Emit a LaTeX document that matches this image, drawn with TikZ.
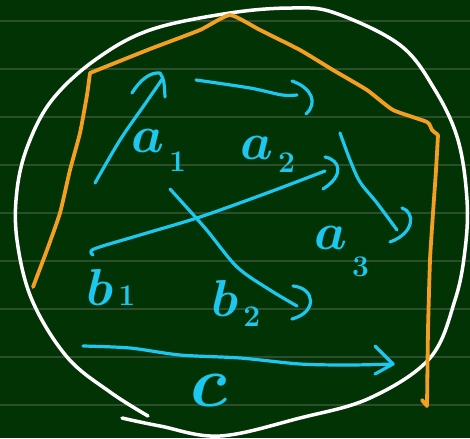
\documentclass[tikz,border=0pt]{standalone}
\usepackage{fix-cm}
\usepackage{tikz}

\definecolor{board}{RGB}{1,51,4}
\definecolor{rulegreen}{RGB}{44,78,44}
\definecolor{chalkcyan}{RGB}{28,200,240}
\definecolor{chalkorange}{RGB}{244,158,34}

% letter with a hand-written index below right
\newcommand{\idx}[3]{$#1$\kern5pt\raisebox{#3}{\fontsize{30}{30}\selectfont\bfseries #2}}

\begin{document}
\begin{tikzpicture}[x=1pt, y=-1pt, line cap=round, line join=round,
    rim/.style={white, line width=3.5pt},
    hull/.style={chalkorange, line width=3.8pt},
    vec/.style={chalkcyan, line width=3.2pt},
    lbl/.style={text=chalkcyan, anchor=base west, inner sep=0pt, font=\fontsize{52}{52}\selectfont\boldmath}]
    
    % board
    \fill[board] (0,0) rectangle (470,438);
    \useasboundingbox (0,0) rectangle (470,438);
    \foreach \y in {21,69,...,405}
        \draw[rulegreen, line width=1.6pt] (0,\y) -- (470,\y);
    
    % white loop
    \draw[rim] plot[smooth, tension=0.6] coordinates {(148,416) (110,392) (67,357) (32,300) (17,240) (17,190) (28,145) (52,100) (95,60) (150,30) (230,13) (293,8) (335,13) (400,45) (435,90) (458,140) (467,200) (465,250) (455,300) (430,358) (370,398) (300,418) (220,436) (160,426) (122,418)};
    
    % orange hull
    \draw[hull] plot[smooth, tension=0.3] coordinates {(33,287) (47,250) (60,213) (70,170) (80,133) (87,95) (90,73)};
    \draw[hull] plot[smooth, tension=0.3] coordinates {(90,73) (150,49) (200,30) (230,15) (260,30) (300,50) (333,70) (367,90) (393,110) (427,122) (432,130) (438,135)};
    \draw[hull] plot[smooth, tension=0.3] coordinates {(438,135) (436,170) (433,213) (430,260) (428,330) (427,406)};
    \draw[hull] (427,406) -- (422,400);
    
    % a_1
    \draw[vec] plot[smooth] coordinates {(95,183) (120,140) (145,104) (163,78)};
    \draw[vec] (132,93) .. controls (140,80) and (150,72) .. (160,73) .. controls (164,80) .. (165,97);
    % a_2
    \draw[vec] plot[smooth] coordinates {(196,80) (250,88) (282,95) (297,95)};
    \draw[vec] (292,81) .. controls (312,88) and (318,103) .. (306,114);
    % b_1
    \draw[vec] plot[smooth] coordinates {(93,255) (94,249) (140,235) (200,217) (267,193) (325,171)};
    \draw[vec] (325,157) .. controls (340,160) and (345,175) .. (323,189);
    % b_2
    \draw[vec] plot[smooth] coordinates {(170,189) (205,228) (237,267) (270,290) (297,306)};
    \draw[vec] (293,286) .. controls (315,288) and (318,312) .. (292,319);
    % a_3
    \draw[vec] plot[smooth] coordinates {(340,133) (350,160) (360,182) (377,203) (397,230)};
    \draw[vec] (402,208) .. controls (415,212) and (415,233) .. (390,242);
    % c
    \draw[vec] plot[smooth] coordinates {(83,346) (130,348) (180,355) (240,358) (300,364) (350,365) (393,364)};
    \draw[vec] (375,346) -- (393,364) -- (375,374);
    
    % labels
    \node[lbl] (la1) at (131,153) {\idx{a}{1}{-19pt}};
    \node[lbl] (la2) at (240,160) {\idx{a}{2}{-13pt}};
    \node[lbl] (la3) at (314,249) {\idx{a}{3}{-27pt}};
    \node[lbl] (lb1) at (86,305) {\idx{b}{1}{0pt}};
    \node[lbl] (lb2) at (211,316) {\idx{b}{2}{-10pt}};
    \node[lbl, font=\fontsize{72}{72}\selectfont\boldmath] (lc) at (190,406) {$c$};
\end{tikzpicture}
\end{document}
